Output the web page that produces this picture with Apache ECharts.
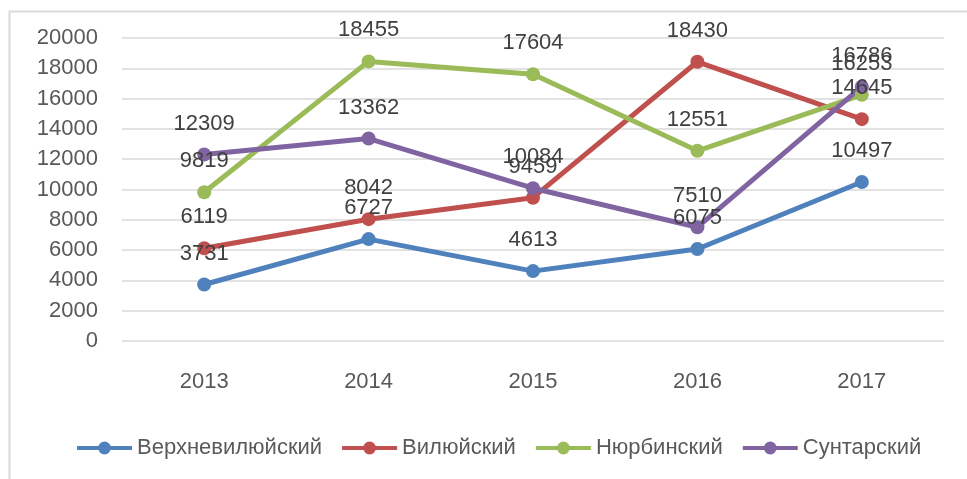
<!DOCTYPE html>
<html><head><meta charset="utf-8">
<script src="https://cdn.jsdelivr.net/npm/echarts@6/dist/echarts.min.js"></script>
<style>html,body{margin:0;padding:0;background:#fff}#c{width:967px;height:479px}</style>
</head><body><div id="c"></div>
<script>
const categories = ['2013','2014','2015','2016','2017'];
const seriesNames = ['Верхневилюйский','Вилюйский','Нюрбинский','Сунтарский'];
const verkhnevilyuisky = [3731, 6727, 4613, 6075, 10497];
const vilyuisky = [6119, 8042, 9459, 18430, 14645];
const nyurbinsky = [9819, 18455, 17604, 12551, 16253];
const suntarsky = [12309, 13362, 10084, 7510, 16786];
const colors = ['#4F81BD','#C0504D','#9BBB59','#8064A2'];
const FONT = 'Liberation Sans';
const values = [verkhnevilyuisky, vilyuisky, nyurbinsky, suntarsky];
const chart = echarts.init(document.getElementById('c'));
chart.setOption({
  animation: false,
  color: colors,
  graphic: [{type:'rect', left:7, top:9, shape:{x:0,y:0,width:975,height:490}, style:{fill:'none', stroke:'#d9d9d9', lineWidth:2}, z:-1}],
  grid: {left:122, right:23, top:38, bottom:138, containLabel:false},
  legend: {
    data: seriesNames, left: 75, top: 437, padding: 0, itemWidth: 55, itemHeight: 16, itemGap: 18,
    lineStyle: {width: 4},
    textStyle: {fontFamily: FONT, fontSize: 22, color: '#595959'}
  },
  xAxis: {
    type:'category', data: categories, boundaryGap: true,
    axisLine:{show:false}, axisTick:{show:false},
    axisLabel:{fontFamily:FONT, fontSize:22, color:'#595959', margin:30}
  },
  yAxis: {
    type:'value', min:0, max:20000, interval:2000,
    axisLine:{show:false}, axisTick:{show:false},
    splitLine:{lineStyle:{color:'#d9d9d9', width:1.5}},
    axisLabel:{fontFamily:FONT, fontSize:22, color:'#595959', margin:24, formatter: v => String(v)}
  },
  series: seriesNames.map((n,i)=>({
    name:n, type:'line', data: values[i], symbol:'circle', symbolSize:14,
    lineStyle:{width:5, color:colors[i]}, itemStyle:{color:colors[i]},
    label:{show:true, position:'top', distance:13, fontFamily:FONT, fontSize:22, color:'#404040'}
  }))
});
</script></body></html>
